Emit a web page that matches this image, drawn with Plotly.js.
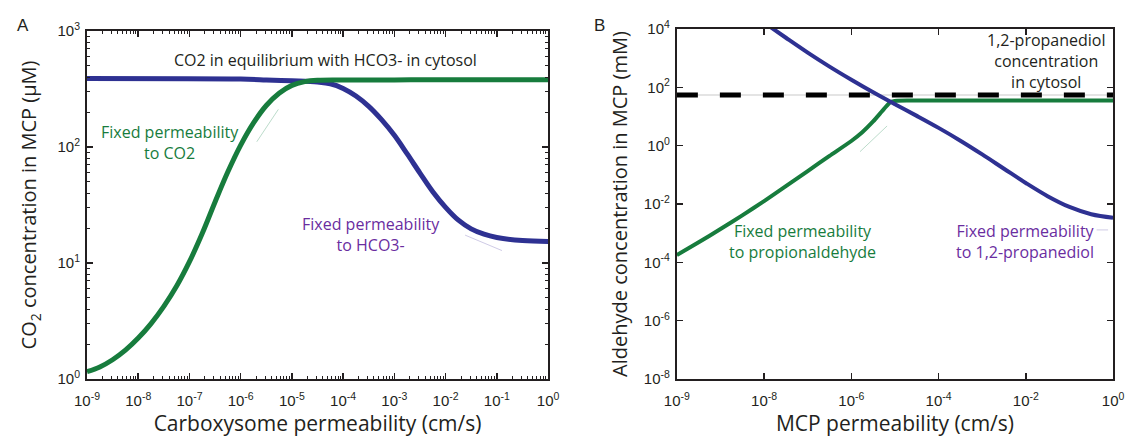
<!DOCTYPE html>
<html>
<head>
<meta charset="utf-8">
<script src="https://cdn.plot.ly/plotly-3.0.1.min.js"></script>
<style>
  html, body { margin: 0; padding: 0; background: #fff; }
  #chart { width: 1130px; height: 438px; }
</style>
</head>
<body>
<div id="chart"></div>
<script>
// ---- Panel A: CO2 inside the carboxysome vs. shell permeability ----
// Shell permeability to CO2 held fixed, HCO3- permeability varied
const carbPermFixedCO2 = [1e-9, 1.78e-9, 3.16e-9, 5.62e-9, 1e-8, 1.78e-8, 3.16e-8, 5.62e-8,
                          1e-7, 1.78e-7, 3.16e-7, 5.62e-7, 1e-6, 1.78e-6, 3.16e-6, 5.62e-6,
                          1e-5, 1.78e-5, 3.16e-5, 1e-4, 1e-3, 1e-2, 1];
const co2FixedCO2 = [1.156, 1.271, 1.466, 1.774, 2.254, 3.006, 4.227, 6.324,
                     10.26, 18.03, 33.6, 61.1, 103.8, 161.4, 228, 291,
                     340, 366, 376, 378, 379, 380, 380];
// Shell permeability to HCO3- held fixed, CO2 permeability varied
const carbPermFixedHCO3 = [1e-9, 1e-6, 3.16e-6, 1e-5, 3.16e-5, 5.62e-5, 1e-4, 1.78e-4,
                           3.16e-4, 5.62e-4, 1e-3, 1.78e-3, 3.16e-3, 5.62e-3, 1e-2, 1.78e-2,
                           3.16e-2, 5.62e-2, 0.1, 0.316, 1];
const co2FixedHCO3 = [389, 385, 379, 372, 363, 351, 320, 275,
                      224, 172, 126, 87.1, 59.6, 41.2, 30.2, 23.4,
                      19.7, 17.7, 16.6, 15.6, 15.3];
// faint asymptote guides
const guideA1x = [2.06e-6, 5.43e-6], guideA1y = [111, 211];
const guideA2x = [0.024, 0.126],     guideA2y = [17.4, 12.8];

// ---- Panel B: propionaldehyde inside the MCP vs. shell permeability ----
// Permeability to propionaldehyde held fixed
const mcpPermFixedAld = [1e-10, 3.16e-10, 1e-9, 3.16e-9, 1e-8, 3.16e-8, 1e-7, 3.16e-7,
                         1e-6, 1.78e-6, 3.16e-6, 5.62e-6, 7.94e-6, 1.12e-5, 3.16e-5, 1];
const aldFixedAld = [1.78e-4, 4.9e-4, 1.38e-3, 4.07e-3, 1.26e-2, 4.07e-2, 0.135, 0.447,
                     1.445, 2.88, 6.76, 18.2, 31.6, 34.7, 35.1, 35.5];
// Permeability to 1,2-propanediol held fixed
const mcpPermFixedPdo = [1e-8, 3.16e-8, 1e-7, 3.16e-7, 1e-6, 3.16e-6, 1e-5, 3.16e-5,
                         1e-4, 3.16e-4, 1e-3, 3.16e-3, 1e-2, 3.16e-2, 0.1, 0.316, 1];
const aldFixedPdo = [16600, 5012, 1549, 513, 182, 67.6, 26.3, 10.5,
                     4.07, 1.48, 0.501, 0.162, 0.0525, 0.0186, 7.94e-3, 4.47e-3, 3.39e-3];
// 1,2-propanediol level in the cytosol
const pdoCytosolX = [1e-10, 1];
const pdoCytosolY = [54.6, 54.6];
const guideB1x = [1.58e-6, 6.6e-6], guideB1y = [0.622, 4.73];
const guideB2x = [0.42, 0.77],      guideB2y = [1.29e-3, 1.29e-3];

// ---- tick labels ----
const xTickValsA = [1e-9, 1e-8, 1e-7, 1e-6, 1e-5, 1e-4, 1e-3, 1e-2, 1e-1, 1];
const xTickTextA = ['10<sup>-9</sup>', '10<sup>-8</sup>', '10<sup>-7</sup>', '10<sup>-6</sup>',
                    '10<sup>-5</sup>', '10<sup>-4</sup>', '10<sup>-3</sup>', '10<sup>-2</sup>',
                    '10<sup>-1</sup>', '10<sup>0</sup>'];
const yTickValsA = [1, 10, 100, 1000];
const yTickTextA = ['10<sup>0</sup>', '10<sup>1</sup>', '10<sup>2</sup>', '10<sup>3</sup>'];
const xTickValsB = [1e-10, 1e-8, 1e-6, 1e-4, 1e-2, 1];
const xTickTextB = ['10<sup>-9</sup>', '10<sup>-8</sup>', '10<sup>-6</sup>', '10<sup>-4</sup>',
                    '10<sup>-2</sup>', '10<sup>0</sup>'];
const yTickValsB = [1e-8, 1e-6, 1e-4, 1e-2, 1, 1e2, 1e4];
const yTickTextB = ['10<sup>-8</sup>', '10<sup>-6</sup>', '10<sup>-4</sup>', '10<sup>-2</sup>',
                    '10<sup>0</sup>', '10<sup>2</sup>', '10<sup>4</sup>'];

const BLUE = '#2e3192', GREEN = '#177c3d', PURPLE = '#6a2d9f', INK = '#231f20';
const TEXT_FONT = '"Open Sans", Lato, sans-serif';
const TICK_FONT = '"Liberation Sans", Arial, sans-serif';

// minor ticks at 2..9 of every decade
function minorTicks(lo, hi) {
  const v = [];
  for (let e = lo; e < hi; e++) for (let m = 2; m <= 9; m++) v.push(m * Math.pow(10, e));
  return v;
}

function curve(x, y, xa, ya, lineStyle) {
  return {
    x: x, y: y, xaxis: xa, yaxis: ya, type: 'scatter', mode: 'lines',
    line: lineStyle, hoverinfo: 'skip', showlegend: false
  };
}

const traces = [
  curve(guideA1x, guideA1y, 'x', 'y', { color: '#bcdccb', width: 1 }),
  curve(guideA2x, guideA2y, 'x', 'y', { color: '#cfcbe6', width: 1 }),
  curve(carbPermFixedHCO3, co2FixedHCO3, 'x', 'y', { color: BLUE, width: 5, shape: 'spline', smoothing: 1 }),
  curve(carbPermFixedCO2, co2FixedCO2, 'x', 'y', { color: GREEN, width: 5, shape: 'spline', smoothing: 1 }),

  curve(pdoCytosolX, pdoCytosolY, 'x2', 'y2', { color: '#e4e4e4', width: 2 }),
  curve(guideB1x, guideB1y, 'x2', 'y2', { color: '#bcdccb', width: 1 }),
  curve(guideB2x, guideB2y, 'x2', 'y2', { color: '#cfcbe6', width: 1 }),
  curve(mcpPermFixedAld, aldFixedAld, 'x2', 'y2', { color: GREEN, width: 4, shape: 'spline', smoothing: 0.6 }),
  curve(mcpPermFixedPdo, aldFixedPdo, 'x2', 'y2', { color: BLUE, width: 4, shape: 'spline', smoothing: 1 }),
  curve(pdoCytosolX, pdoCytosolY, 'x2', 'y2', { color: '#000', width: 5, dash: '21px,22px' })
];

const axisBase = {
  type: 'log', showgrid: false, zeroline: false, showline: true,
  linecolor: INK, linewidth: 2, mirror: 'ticks', ticks: 'inside',
  ticklen: 6, tickwidth: 1.5, tickcolor: INK, tickmode: 'array',
  tickfont: { family: TICK_FONT, size: 15, color: INK }, automargin: false
};
const xTitleFont = { family: TEXT_FONT, size: 21, color: INK };
const yTitleFont = { family: TEXT_FONT, size: 20, color: INK };
const noteFont = (c) => ({ family: TEXT_FONT, size: 16, color: c });

const layout = {
  width: 1130, height: 438,
  margin: { l: 0, r: 0, t: 0, b: 0 },
  paper_bgcolor: '#fff', plot_bgcolor: '#fff',
  showlegend: false,
  xaxis: Object.assign({}, axisBase, {
    domain: [0.077, 0.485], anchor: 'y', range: [-9, 0],
    tickvals: xTickValsA, ticktext: xTickTextA, ticklabelstandoff: 7,
    minor: { tickmode: 'array', tickvals: minorTicks(-9, 0), ticks: 'inside', ticklen: 3, tickcolor: INK, tickwidth: 1 },
    title: { text: 'Carboxysome permeability (cm/s)', font: xTitleFont, standoff: 4 }
  }),
  yaxis: Object.assign({}, axisBase, {
    domain: [0.1347, 0.9292], anchor: 'x', range: [0, 3],
    tickvals: yTickValsA, ticktext: yTickTextA, ticklabelstandoff: 2,
    minor: { tickmode: 'array', tickvals: minorTicks(0, 3), ticks: 'inside', ticklen: 3, tickcolor: INK, tickwidth: 1 },
    title: { text: 'CO<sub>2</sub> concentration in MCP (\u00b5M)', font: yTitleFont, standoff: 15 }
  }),
  xaxis2: Object.assign({}, axisBase, {
    domain: [0.599, 0.985], anchor: 'y2', range: [-10, 0],
    tickvals: xTickValsB, ticktext: xTickTextB, ticklabelstandoff: 7,
    title: { text: 'MCP permeability (cm/s)', font: xTitleFont, standoff: 4 }
  }),
  yaxis2: Object.assign({}, axisBase, {
    domain: [0.1347, 0.9338], anchor: 'x2', range: [-8, 4],
    tickvals: yTickValsB, ticktext: yTickTextB, ticklabelstandoff: 2,
    title: { text: 'Aldehyde concentration in MCP (mM)', font: yTitleFont, standoff: 11 }
  }),
  annotations: [
    { xref: 'paper', yref: 'paper', x: 15 / 1130, y: 1 - 14 / 438, text: 'A', showarrow: false,
      font: { family: TICK_FONT, size: 17, color: INK } },
    { xref: 'paper', yref: 'paper', x: 599 / 1130, y: 1 - 14 / 438, text: 'B', showarrow: false,
      font: { family: TICK_FONT, size: 17, color: INK } },
    { xref: 'x', yref: 'y', x: -4.35, y: 2.75, showarrow: false,
      text: 'CO2 in equilibrium with HCO3- in cytosol', font: noteFont(INK) },
    { xref: 'x', yref: 'y', x: -7.38, y: 2.04, showarrow: false,
      text: 'Fixed permeability<br>to CO2', font: noteFont(GREEN) },
    { xref: 'x', yref: 'y', x: -3.46, y: 1.25, showarrow: false,
      text: 'Fixed permeability<br>to HCO3-', font: noteFont(PURPLE) },
    { xref: 'x2', yref: 'y2', x: -1.52, y: 2.90, showarrow: false,
      text: '1,2-propanediol<br>concentration<br>in cytosol', font: noteFont(INK) },
    { xref: 'x2', yref: 'y2', x: -7.11, y: -3.27, showarrow: false,
      text: 'Fixed permeability<br>to propionaldehyde', font: noteFont(GREEN) },
    { xref: 'x2', yref: 'y2', x: -2.0, y: -3.27, showarrow: false,
      text: 'Fixed permeability<br>to 1,2-propanediol', font: noteFont(PURPLE) }
  ]
};

Plotly.newPlot('chart', traces, layout, { staticPlot: true, displayModeBar: false });
</script>
</body>
</html>
